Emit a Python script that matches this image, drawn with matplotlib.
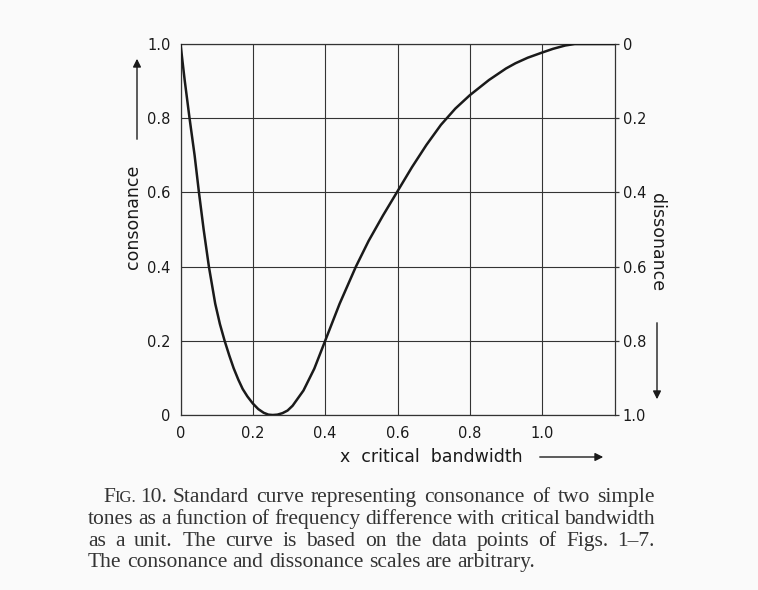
import matplotlib.pyplot as plt
from matplotlib.patches import FancyArrowPatch

# curve (x in critical bandwidths, consonance 0..1)
bandwidth = [0, 0.0115, 0.025, 0.039, 0.051, 0.064, 0.0785, 0.096, 0.109, 0.122,
             0.135, 0.147, 0.16, 0.172, 0.185, 0.2, 0.215, 0.23, 0.243, 0.255,
             0.268, 0.282, 0.296, 0.31, 0.34, 0.37, 0.4, 0.44, 0.485, 0.52,
             0.56, 0.6, 0.64, 0.68, 0.72, 0.76, 0.8, 0.853, 0.9, 0.926, 0.96,
             1.0, 1.03, 1.064, 1.09, 1.2]
consonance = [1.0, 0.903, 0.8, 0.7, 0.6, 0.5, 0.4, 0.3, 0.245, 0.2,
              0.16, 0.126, 0.095, 0.07, 0.05, 0.031, 0.016, 0.006, 0.001, 0.0,
              0.001, 0.005, 0.012, 0.025, 0.066, 0.125, 0.2, 0.3, 0.4, 0.469,
              0.538, 0.603, 0.668, 0.728, 0.782, 0.826, 0.862, 0.903, 0.934, 0.948, 0.963,
              0.977, 0.987, 0.996, 1.0, 1.0]

x_ticks = [0, 0.2, 0.4, 0.6, 0.8, 1.0]
x_labels = ['0', '0.2', '0.4', '0.6', '0.8', '1.0']
y_ticks = [0, 0.2, 0.4, 0.6, 0.8, 1.0]
y_labels = ['0', '0.2', '0.4', '0.6', '0.8', '1.0']

caption = [
    "Standard curve representing consonance of two simple",
    "tones as a function of frequency difference with critical bandwidth",
    "as a unit. The curve is based on the data points of Figs. 1\u20137.",
    "The consonance and dissonance scales are arbitrary.",
]

bg = '#fafafa'
ink = '#1a1a1a'
sans = 'DejaVu Sans'
serif = 'Liberation Serif'
W, H = 758, 590

fig = plt.figure(figsize=(7.58, 5.90), dpi=100, facecolor=bg)
ax = fig.add_axes([180.5 / W, 1 - 415 / H, 434 / W, 371 / H])
ax.set_facecolor(bg)

ax.plot(bandwidth, consonance, color=ink, lw=1.8, zorder=3,
        solid_joinstyle='round', solid_capstyle='round')
ax.set_xlim(0, 1.2)
ax.set_ylim(0, 1.0)
ax.set_xticks(x_ticks)
ax.set_xticklabels(x_labels)
ax.set_yticks(y_ticks)
ax.set_yticklabels(y_labels)
ax.grid(True, color='#333333', lw=0.8)
for s in ax.spines.values():
    s.set_color('#333333')
    s.set_linewidth(0.9)
ax.tick_params(axis='y', length=0, pad=7, labelsize=10.5, labelcolor=ink)
ax.tick_params(axis='x', length=0, pad=8, labelsize=10.5, labelcolor=ink)
for lab in ax.get_xticklabels() + ax.get_yticklabels():
    lab.set_family(sans)

ax2 = ax.twinx()
ax2.set_ylim(1.0, 0)
ax2.set_yticks(y_ticks)
ax2.set_yticklabels(y_labels)
ax2.tick_params(length=3, width=0.9, color='#333333', pad=3, labelsize=10.5, labelcolor=ink)
for s in ax2.spines.values():
    s.set_visible(False)
for lab in ax2.get_yticklabels():
    lab.set_family(sans)

# axis titles with arrows
fig.text(133 / W, 1 - 217 / H, 'consonance', rotation=90, ha='center', va='center',
         family=sans, fontsize=12.5, color=ink)
fig.text(657 / W, 1 - 242 / H, 'dissonance', rotation=270, ha='center', va='center',
         family=sans, fontsize=12.5, color=ink)
fig.text(431 / W, 1 - 457 / H, 'x  critical  bandwidth', ha='center', va='center',
         family=sans, fontsize=12.5, color=ink)

arrow = dict(arrowstyle='-|>', color=ink, lw=1.0, mutation_scale=12,
             transform=fig.transFigure)
fig.add_artist(FancyArrowPatch((137 / W, 1 - 142 / H), (137 / W, 1 - 56 / H), **arrow))
fig.add_artist(FancyArrowPatch((657 / W, 1 - 320 / H), (657 / W, 1 - 402 / H), **arrow))
fig.add_artist(FancyArrowPatch((537 / W, 1 - 457 / H), (606 / W, 1 - 457 / H), **arrow))

# caption: justified lines, "Fig." in small caps
renderer = fig.canvas.get_renderer()
cap_kw = dict(ha='left', va='baseline', family=serif, fontsize=15.5, color='#333333')
right_px = 655


def put(x_px, y_px, s, **kw):
    t = fig.text(x_px / W, 1 - y_px / H, s, **{**cap_kw, **kw})
    return t.get_window_extent(renderer).width


def width_of(s):
    t = fig.text(0, 0, s, **cap_kw)
    w = t.get_window_extent(renderer).width
    t.remove()
    return w


def justified(x_px, y_px, line, stretch=True):
    words = line.split(' ')
    widths = [width_of(w) for w in words]
    gap = width_of('a a') - 2 * width_of('a')
    if stretch and len(words) > 1:
        gap = (right_px - x_px - sum(widths)) / (len(words) - 1)
    x = x_px
    for w, wd in zip(words, widths):
        put(x, y_px, w)
        x += wd + gap


base = [502, 524, 546, 567]
x0 = 103
x0 += put(x0, base[0], 'F')
x0 += put(x0, base[0], 'IG.', fontsize=12)
x0 += 4
x0 += put(x0, base[0], '10.')
justified(x0 + 5, base[0], caption[0])
justified(88, base[1], caption[1])
justified(88, base[2], caption[2])
justified(88, base[3], caption[3], stretch=False)

fig.savefig('out.png', dpi=100, facecolor=bg)
